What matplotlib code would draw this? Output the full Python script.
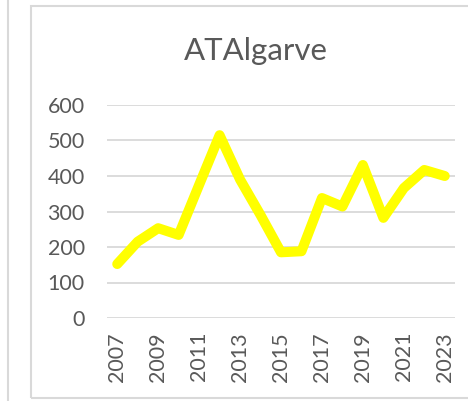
import matplotlib.pyplot as plt
from matplotlib.patches import Rectangle
from matplotlib.lines import Line2D

W, H = 468, 401
GRID = '#d9d9d9'
TEXT = '#595959'
YELLOW = '#ffff00'

plt.rcParams['font.family'] = ['Lato', 'DejaVu Sans']

years = list(range(2007, 2024))
values = [152, 215, 253, 234, 375, 515, 390, 290, 185, 188,
          338, 314, 431, 282, 366, 417, 400]
yticks = [0, 100, 200, 300, 400, 500, 600]
xlabels = list(range(2007, 2024, 2))

fig = plt.figure(figsize=(W / 100, H / 100), dpi=100)

# chart frame (Excel style) plus the edge of the neighbouring chart
fig.add_artist(Rectangle((31 / W, 1 - 398 / H), (W + 10 - 31) / W, (398 - 6) / H,
                         transform=fig.transFigure, fill=False,
                         edgecolor=GRID, lw=1.5))
fig.add_artist(Line2D([8 / W, 8 / W], [1 - 400 / H, 1.01],
                      transform=fig.transFigure, color=GRID, lw=1.5))

ax = fig.add_axes([107 / W, 83 / H, (455 - 107) / W, (318 - 105) / H])
ax.plot(years, values, color=YELLOW, lw=7.2,
        solid_joinstyle='round', solid_capstyle='round', zorder=3)

ax.set_xlim(2006.5, 2023.5)
ax.set_ylim(0, 600)
ax.set_yticks(yticks)
ax.set_xticks(xlabels)
ax.set_xticklabels([str(y) for y in xlabels], rotation=90)
ax.tick_params(axis='y', length=0, pad=16, labelsize=15.5, labelcolor=TEXT)
ax.tick_params(axis='x', length=0, pad=10, labelsize=15.5, labelcolor=TEXT)
ax.grid(axis='y', color=GRID, lw=1.3, zorder=0)
for s in ax.spines.values():
    s.set_visible(False)
ax.set_facecolor('none')

fig.text(256 / W, 1 - 51 / H, 'ATAlgarve', ha='center', va='center',
         fontsize=22.5, color=TEXT)

fig.savefig('out.png', dpi=100)
